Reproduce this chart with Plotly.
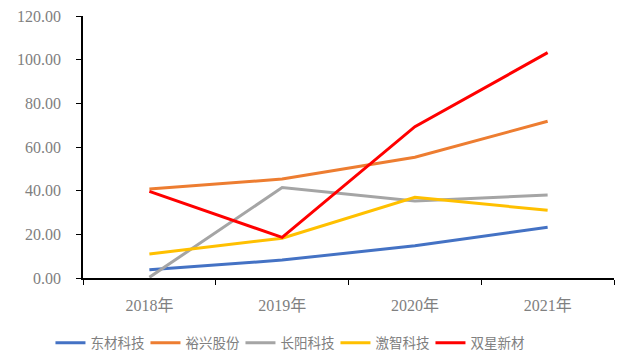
import plotly.graph_objects as go

years = ["2018年", "2019年", "2020年", "2021年"]
dongcai = [3.8, 8.2, 14.8, 23.2]
yuxing = [40.8, 45.3, 55.3, 71.8]
changyang = [0.3, 41.4, 35.3, 38.0]
jizhi = [11.0, 18.2, 37.0, 31.0]
shuangxing = [39.7, 18.6, 69.3, 103.2]

series = [
    ("东材科技", dongcai, "#4472C4"),
    ("裕兴股份", yuxing, "#ED7D31"),
    ("长阳科技", changyang, "#A5A5A5"),
    ("激智科技", jizhi, "#FFC000"),
    ("双星新材", shuangxing, "#FF0000"),
]

fig = go.Figure()
for name, vals, color in series:
    fig.add_trace(go.Scatter(x=years, y=vals, mode="lines", name=name,
                             line=dict(color=color, width=3)))

font_fam = "Liberation Serif, Noto Sans CJK SC, serif"
fig.update_layout(
    width=619, height=358,
    margin=dict(l=83, r=5, t=16, b=80, autoexpand=False),
    paper_bgcolor="white", plot_bgcolor="white",
    font=dict(family=font_fam, color="#808080", size=14),
    showlegend=True,
    legend=dict(orientation="h", x=0.386, xanchor="center",
                yref="container", y=0.085, yanchor="top",
                font=dict(size=13.5, color="#808080", family="Noto Sans CJK SC, sans-serif"),
                itemwidth=30, entrywidth=50, tracegroupgap=0),
    xaxis=dict(type="category", showline=True, linecolor="black", linewidth=1.5,
               ticks="outside", tickson="boundaries", ticklen=5, tickcolor="black",
               showgrid=False, ticklabelstandoff=12, automargin=False,
               tickfont=dict(size=16, color="#808080", family=font_fam),
               range=[-0.5, 3.5]),
    yaxis=dict(range=[0, 120], dtick=20, tickformat=".2f", showline=True,
               linecolor="black", linewidth=1.5, ticks="outside", ticklen=5,
               tickcolor="black", showgrid=False, zeroline=False,
               ticklabelstandoff=12, automargin=False,
               tickfont=dict(size=16, color="#808080", family=font_fam)),
)
fig.write_html("out.html")
